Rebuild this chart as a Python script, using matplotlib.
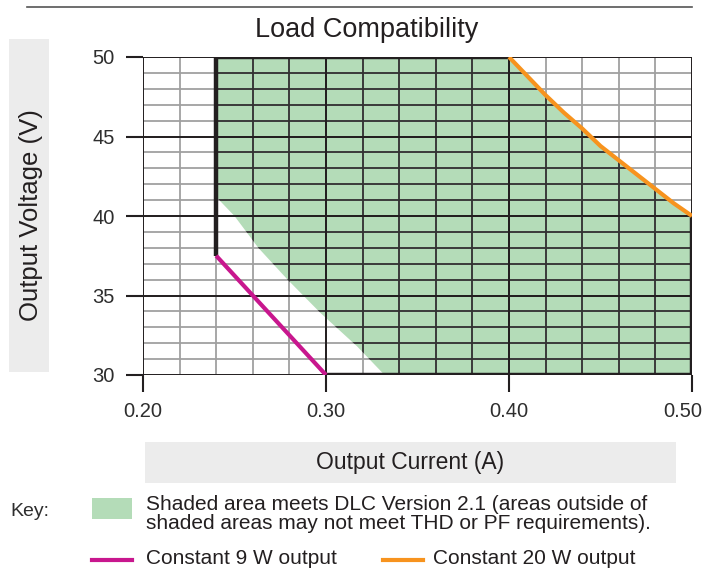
import matplotlib
matplotlib.use("Agg")
import matplotlib.pyplot as plt
import matplotlib.transforms as mtransforms
from matplotlib.patches import Polygon, Rectangle
from matplotlib.lines import Line2D

# Оси
current_ticks = [0.20, 0.30, 0.40, 0.50]
voltage_ticks = [30, 35, 40, 45, 50]
current_minor = [0.20, 0.22, 0.24, 0.26, 0.28, 0.30, 0.32, 0.34, 0.36, 0.38,
                 0.40, 0.42, 0.44, 0.46, 0.48, 0.50]
voltage_minor = list(range(30, 51))

# Кривая постоянной мощности 9 Вт
w9_current = [0.24, 0.26, 0.28, 0.30]
w9_voltage = [37.5, 35.0, 32.5, 30.0]

# Кривая постоянной мощности 20 Вт
w20_current = [0.40, 0.41, 0.42, 0.43, 0.44, 0.45, 0.46, 0.47, 0.48, 0.49, 0.50]
w20_voltage = [50.0, 48.8, 47.6, 46.5, 45.5, 44.4, 43.5, 42.6, 41.7, 40.8, 40.0]

# Нижняя левая граница зелёной области (DLC 2.1)
dlc_edge_current = [0.24, 0.25, 0.263, 0.279, 0.297, 0.317, 0.332]
dlc_edge_voltage = [41.2, 40.0, 38.0, 36.0, 33.9, 31.8, 30.0]

GREEN = "#b4dcb8"
MAGENTA = "#c8178e"
ORANGE = "#f7931e"
DARK = "#231f20"
TXT = "#2e2e2e"
BOX = "#ececec"

plt.rcParams["font.family"] = ["Liberation Sans", "DejaVu Sans"]
fig = plt.figure(figsize=(7.04, 5.70), dpi=100)

ax = fig.add_axes([143 / 704, 1 - 375 / 570, 549 / 704, 318 / 570])
ax.set_xlim(current_ticks[0], current_ticks[-1])
ax.set_ylim(voltage_ticks[0], voltage_ticks[-1])

# Зелёная область
poly_pts = [(dlc_edge_current[0], dlc_edge_voltage[0]),
            (w9_current[0], w20_voltage[0])]
poly_pts += list(zip(w20_current, w20_voltage))
poly_pts += [(w20_current[-1], voltage_ticks[0])]
poly_pts += list(zip(dlc_edge_current[::-1], dlc_edge_voltage[::-1]))
green = Polygon(poly_pts, closed=True, facecolor=GREEN, edgecolor="none", zorder=1)
ax.add_patch(green)

# Сетка: серая снаружи, тёмная внутри зелёной области
for x in current_minor:
    ax.plot([x, x], [voltage_ticks[0], voltage_ticks[-1]], color="#a0a0a0", lw=1.3, zorder=2)
    ln, = ax.plot([x, x], [voltage_ticks[0], voltage_ticks[-1]], color="#333333", lw=1.3, zorder=2.5)
    ln.set_clip_path(green)
for y in voltage_minor:
    ax.plot([current_ticks[0], current_ticks[-1]], [y, y], color="#a0a0a0", lw=1.3, zorder=2)
    ln, = ax.plot([current_ticks[0], current_ticks[-1]], [y, y], color="#333333", lw=1.3, zorder=2.5)
    ln.set_clip_path(green)
for x in current_ticks:
    ax.plot([x, x], [voltage_ticks[0], voltage_ticks[-1]], color=DARK, lw=1.4, zorder=3)
for y in voltage_ticks:
    ax.plot([current_ticks[0], current_ticks[-1]], [y, y], color=DARK, lw=1.4, zorder=3)

# Толстая граница области
ax.plot([w9_current[0], w9_current[0], w20_current[0]],
        [w9_voltage[0], w20_voltage[0], w20_voltage[0]],
        color=DARK, lw=3.2, zorder=4, solid_capstyle="butt")
ax.plot([w20_current[-1], w20_current[-1], w9_current[-1]],
        [w20_voltage[-1], w9_voltage[-1], w9_voltage[-1]],
        color=DARK, lw=3.2, zorder=4, solid_capstyle="butt")

# Кривые постоянной мощности
ax.plot(w9_current, w9_voltage, color=MAGENTA, lw=3.0, zorder=5, solid_capstyle="butt")
ax.plot(w20_current, w20_voltage, color=ORANGE, lw=3.0, zorder=5, solid_capstyle="butt")

for s in ax.spines.values():
    s.set_visible(False)
ax.set_xticks(current_ticks)
ax.set_xticklabels([f"{v:.2f}" for v in current_ticks])
ax.set_yticks(voltage_ticks)
ax.set_yticklabels([str(v) for v in voltage_ticks])
ax.tick_params(axis="both", direction="out", length=12.5, width=1.5, color=DARK,
               labelsize=14.5, labelcolor=TXT)
ax.tick_params(axis="y", pad=8)
ax.tick_params(axis="x", pad=7)
# последний подпись сдвинута влево, чтобы не вылезать за край
last = ax.get_xticklabels()[-1]
last.set_transform(last.get_transform() +
                   mtransforms.ScaledTranslation(-9 / 100, 0, fig.dpi_scale_trans))

# Заголовок и линия сверху
fig.add_artist(Line2D([27 / 704, 692 / 704], [1 - 7 / 570, 1 - 7 / 570],
                      color="#555555", lw=1.2))
fig.text(367 / 704, 1 - 30 / 570, "Load Compatibility", ha="center", va="center",
         fontsize=19.5, color=DARK)

# Подписи осей в серых плашках
fig.add_artist(Rectangle((9 / 704, 1 - 372 / 570), 40 / 704, 333 / 570,
                         facecolor=BOX, edgecolor="none"))
fig.text(31 / 704, 1 - 215 / 570, "Output Voltage (V)", rotation=90,
         ha="center", va="center", fontsize=18.5, color=DARK)
fig.add_artist(Rectangle((145 / 704, 1 - 483 / 570), 531 / 704, 41 / 570,
                         facecolor=BOX, edgecolor="none"))
fig.text(410 / 704, 1 - 463 / 570, "Output Current (A)",
         ha="center", va="center", fontsize=16.5, color=DARK)

# Ключ
fig.text(10 / 704, 1 - 511 / 570, "Key:", ha="left", va="center", fontsize=14, color=TXT)
fig.add_artist(Rectangle((92 / 704, 1 - 519 / 570), 40 / 704, 21 / 570,
                         facecolor=GREEN, edgecolor="none"))
fig.text(146 / 704, 1 - 514 / 570,
         "Shaded area meets DLC Version 2.1 (areas outside of\n"
         "shaded areas may not meet THD or PF requirements).",
         ha="left", va="center", fontsize=15, color=DARK, linespacing=0.95)
fig.add_artist(Line2D([92 / 704, 132 / 704], [1 - 560 / 570, 1 - 560 / 570],
                      color=MAGENTA, lw=3))
fig.text(146 / 704, 1 - 558 / 570, "Constant 9 W output", ha="left", va="center",
         fontsize=15, color=DARK)
fig.add_artist(Line2D([383 / 704, 423 / 704], [1 - 560 / 570, 1 - 560 / 570],
                      color=ORANGE, lw=3))
fig.text(433 / 704, 1 - 558 / 570, "Constant 20 W output", ha="left", va="center",
         fontsize=15, color=DARK)

fig.savefig("out.png", dpi=100)
